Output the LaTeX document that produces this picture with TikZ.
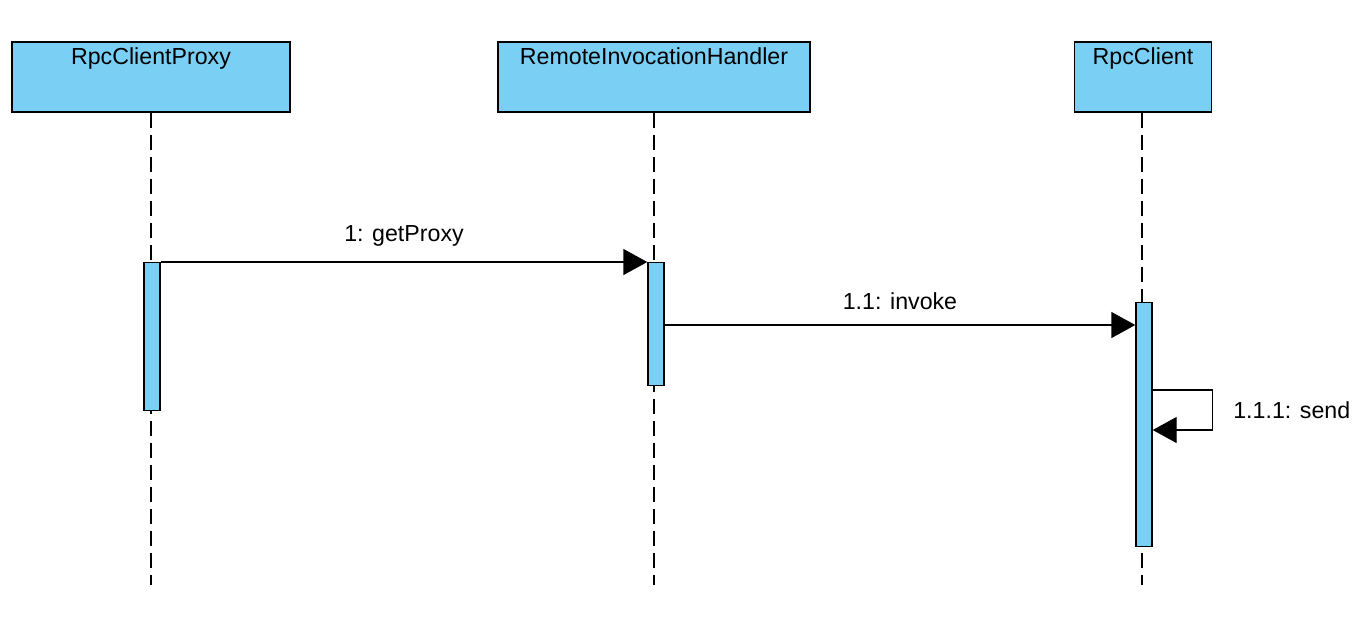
\documentclass[tikz,border=0pt]{standalone}
\usepackage{fontspec}
\setmainfont{Liberation Sans}
\usetikzlibrary{arrows.meta}
\definecolor{lifeblue}{RGB}{122,207,245}
\tikzset{
  partbox/.style={draw, thick, fill=lifeblue, minimum height=1.4cm, inner sep=0pt},
  partname/.style={font=\fontsize{13.2}{15}\selectfont},
  actbar/.style={draw, thick, fill=lifeblue, minimum width=0.32cm, inner sep=0pt, anchor=north},
  lifeline/.style={thick, dash pattern=on 0.3cm off 0.14cm},
  msgarrow/.style={-{Triangle[length=0.48cm,width=0.52cm]}, thick},
  msglabel/.style={font=\fontsize{13.2}{15}\selectfont},
}

\begin{document}
\begin{tikzpicture}[x=0.02cm, y=-0.02cm]
  \useasboundingbox (0,0) rectangle (1366,616);
  % participants
  \node[partbox, minimum width=5.56cm, label={[partname, below=0pt]north:RpcClientProxy}] (proxy) at (151,77) {};
  \node[partbox, minimum width=6.24cm, label={[partname, below=0pt]north:RemoteInvocationHandler}] (handler) at (654,77) {};
  \node[partbox, minimum width=2.74cm, label={[partname, below=0pt]north:RpcClient}] (client) at (1143,77) {};
  % lifelines
  \coordinate (proxyend) at (151,585);
  \coordinate (handlerend) at (654,585);
  \coordinate (clientend) at (1142,585);
  \draw[lifeline] (proxy.south) -- (proxyend);
  \draw[lifeline] (handler.south) -- (handlerend);
  \draw[lifeline] (client.south -| clientend) -- (clientend);
  % activations
  \node[actbar, minimum height=2.96cm] (proxybar) at (152,262) {};
  \node[actbar, minimum height=2.46cm] (handlerbar) at (656,262) {};
  \node[actbar, minimum height=4.88cm] (clientbar) at (1144,302) {};
  % messages
  \draw[msgarrow] (proxybar.north east) -- node[msglabel, above=5pt]{1: getProxy} (handlerbar.north west);
  \coordinate (invokeat) at (664,325);
  \draw[msgarrow] (handlerbar.east |- invokeat) -- node[msglabel, above=5pt]{1.1: invoke} (invokeat -| clientbar.west);
  \coordinate (sendout) at (1152,390);
  \coordinate (sendin) at (1152,430);
  \draw[msgarrow] (clientbar.east |- sendout) -- ++(60,0) |- node[msglabel, pos=0.25, right=8pt]{1.1.1: send} (clientbar.east |- sendin);
\end{tikzpicture}
\end{document}
